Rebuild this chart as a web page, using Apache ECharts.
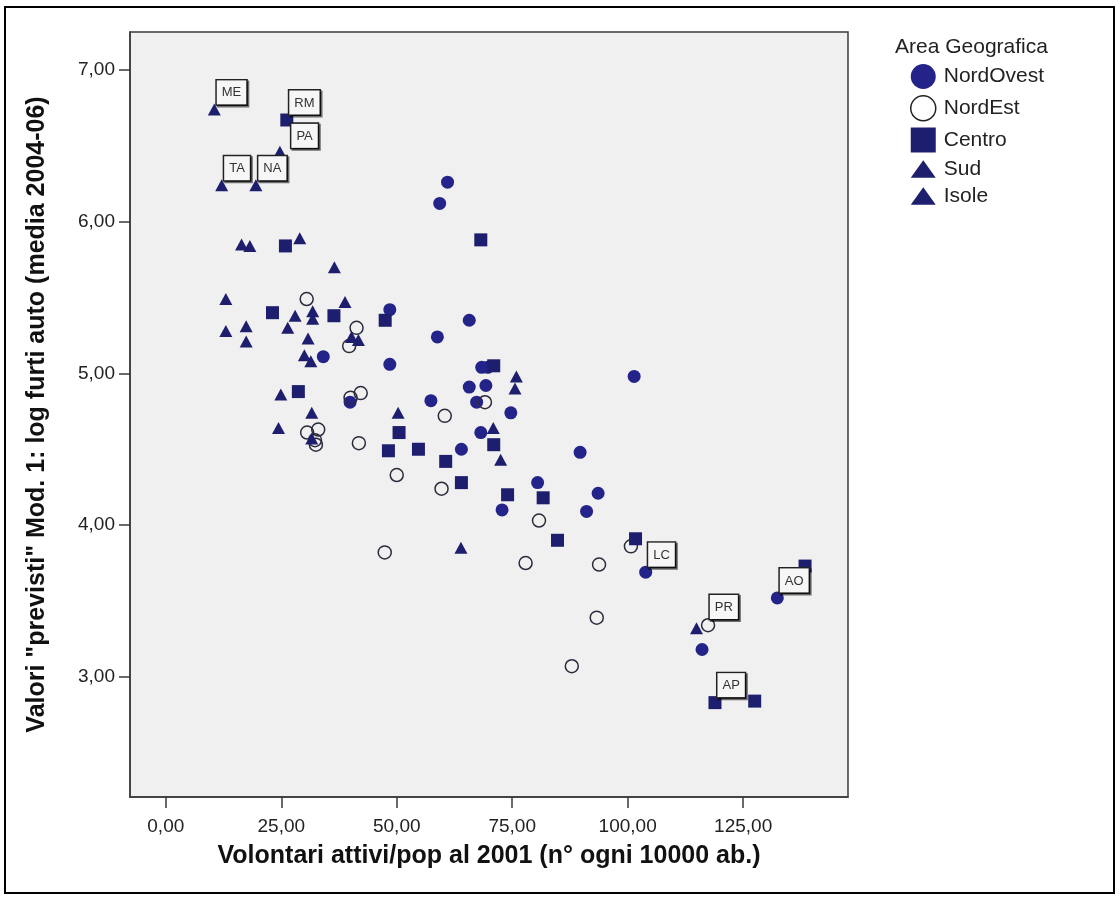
<!DOCTYPE html>
<html>
<head>
<meta charset="utf-8">
<title>Volontari e furti auto</title>
<script src="https://cdn.jsdelivr.net/npm/echarts@6/dist/echarts.min.js"></script>
<style>
  body { margin: 0; background: #fff; }
  #main { width: 1120px; height: 900px; }
</style>
</head>
<body>
<div id="main"></div>
<script>
  // valori: [volontari ogni 10000 ab., log furti auto previsto, sigla]
  const nordOvest = [
    [59.3, 6.12], [61.0, 6.26], [48.5, 5.42], [58.8, 5.24], [65.7, 5.35], [34.1, 5.11],
    [48.5, 5.06], [68.4, 5.04], [69.7, 5.04], [101.4, 4.98], [65.7, 4.91], [69.3, 4.92],
    [57.4, 4.82], [67.3, 4.81], [39.9, 4.81], [74.7, 4.74], [68.2, 4.61], [64.0, 4.50],
    [89.7, 4.48], [80.5, 4.28], [93.6, 4.21], [72.8, 4.10], [91.1, 4.09], [103.9, 3.69, 'LC'],
    [132.4, 3.52, 'AO'], [116.1, 3.18]
  ]
  const nordEst = [
    [30.5, 5.49], [41.3, 5.30], [39.7, 5.18], [42.2, 4.87], [40.0, 4.84], [60.4, 4.72],
    [69.1, 4.81], [30.6, 4.61], [33.0, 4.63], [32.3, 4.56], [32.5, 4.53], [41.8, 4.54],
    [50.0, 4.33], [59.7, 4.24], [80.8, 4.03], [47.4, 3.82], [77.9, 3.75], [93.8, 3.74],
    [100.7, 3.86], [93.3, 3.39], [87.9, 3.07], [117.4, 3.34, 'PR']
  ]
  const centro = [
    [26.2, 6.67, 'RM'], [25.9, 5.84], [68.2, 5.88], [23.1, 5.40], [36.4, 5.38], [47.5, 5.35],
    [71.0, 5.05], [28.7, 4.88], [50.5, 4.61], [71.0, 4.53], [48.2, 4.49], [54.7, 4.50],
    [60.6, 4.42], [64.0, 4.28], [74.0, 4.20], [81.7, 4.18], [84.8, 3.90], [101.7, 3.91],
    [118.9, 2.83, 'AP'], [127.5, 2.84], [138.4, 3.73]
  ]
  const sud = [
    [12.1, 6.24, 'TA'], [19.5, 6.24, 'NA'], [18.2, 5.84], [29.0, 5.89], [36.5, 5.70],
    [38.8, 5.47], [28.0, 5.38], [31.8, 5.41], [31.8, 5.36], [17.4, 5.31], [40.2, 5.24],
    [41.7, 5.22], [30.8, 5.23], [31.4, 5.08], [24.9, 4.86], [31.6, 4.57], [75.9, 4.98],
    [75.6, 4.90], [70.9, 4.64], [72.5, 4.43]
  ]
  const isole = [
    [10.5, 6.74, 'ME'], [24.7, 6.46, 'PA'], [13.0, 5.49], [16.4, 5.85], [13.0, 5.28],
    [17.4, 5.21], [26.4, 5.30], [30.0, 5.12], [24.4, 4.64], [31.6, 4.74], [50.3, 4.74],
    [63.9, 3.85], [114.9, 3.32]
  ]
  const xTicks = [0, 25, 50, 75, 100, 125]
  const yTicks = [3, 4, 5, 6, 7]

  const blu = '#23238a'
  const bluScuro = '#1e1e6e'
  const fmt = v => v.toFixed(2).replace('.', ',')

  // etichetta a riquadro in alto a destra del punto
  const sigla = {
    show: true,
    formatter: p => p.value[2],
    position: [9, -23],
    fontSize: 13,
    color: '#333',
    backgroundColor: '#f6f6f6',
    borderColor: '#222',
    borderWidth: 1.5,
    padding: [6, 5, 5, 5],
    shadowColor: 'rgba(0,0,0,0.55)',
    shadowOffsetX: 1.5,
    shadowOffsetY: 1.5
  }
  function punti (arr) {
    return arr.map(p => {
      if (!p[2]) return p
      let lab = Object.assign({}, sigla)
      if (p[2] === 'PA') lab.position = [18, -22]
      return {value: p, label: lab}
    })
  }

  function serie (name, arr, symbol, size, style) {
    return {
      name: name,
      type: 'scatter',
      symbol: symbol,
      symbolSize: size,
      itemStyle: Object.assign({opacity: 1}, style),
      label: {show: false},
      emphasis: {disabled: true},
      data: punti(arr)
    }
  }

  const triangolo = 'path://M0,16L11.5,0L23,16Z'
  const assi = {color: '#3a3a3a', width: 1.5}

  let chart = echarts.init(document.getElementById('main'))
  chart.setOption({
    animation: false,
    textStyle: {fontFamily: 'Liberation Sans'},
    graphic: [
      {
        type: 'rect',
        shape: {x: 5, y: 7, width: 1109, height: 886},
        style: {fill: 'none', stroke: '#000', lineWidth: 2}
      },
      {
        type: 'text',
        left: 895,
        top: 37,
        style: {text: 'Area Geografica', fontSize: 21, fill: '#222', fontFamily: 'Liberation Sans'}
      }
    ],
    legend: {
      orient: 'vertical',
      left: 910,
      top: 64,
      padding: 0,
      itemWidth: 25,
      itemHeight: 25,
      itemGap: 6,
      selectedMode: false,
      textStyle: {fontSize: 21, color: '#222', padding: [0, 0, 0, 3]},
      data: [
        {name: 'NordOvest', icon: 'circle'},
        {name: 'NordEst', icon: 'circle', itemStyle: {color: '#fff', borderColor: '#222', borderWidth: 1.5}},
        {name: 'Centro', icon: 'rect'},
        {name: 'Sud', icon: triangolo},
        {name: 'Isole', icon: triangolo}
      ]
    },
    grid: {
      left: 130,
      top: 32,
      width: 718,
      height: 765,
      show: true,
      backgroundColor: '#f0f0f0',
      borderColor: '#3a3a3a',
      borderWidth: 1.5
    },
    xAxis: {
      type: 'value',
      min: -7.75,
      max: 147.7,
      name: 'Volontari attivi/pop al 2001 (n° ogni 10000 ab.)',
      nameLocation: 'middle',
      nameGap: 47,
      nameTextStyle: {fontSize: 25, fontWeight: 'bold', color: '#111'},
      axisLine: {show: true, onZero: false, lineStyle: assi},
      axisTick: {show: true, customValues: xTicks, length: 11, lineStyle: assi},
      axisLabel: {customValues: xTicks, formatter: fmt, fontSize: 19, color: '#222', margin: 20},
      splitLine: {show: false}
    },
    yAxis: {
      type: 'value',
      min: 2.208,
      max: 7.25,
      name: 'Valori "previsti" Mod. 1: log furti auto (media 2004-06)',
      nameLocation: 'middle',
      nameGap: 80,
      nameTextStyle: {fontSize: 25, fontWeight: 'bold', color: '#111'},
      axisLine: {show: true, onZero: false, lineStyle: assi},
      axisTick: {show: true, customValues: yTicks, length: 11, lineStyle: assi},
      axisLabel: {customValues: yTicks, formatter: fmt, fontSize: 19, color: '#222', margin: 15},
      splitLine: {show: false}
    },
    series: [
      serie('NordOvest', nordOvest, 'circle', 13, {color: blu}),
      serie('NordEst', nordEst, 'circle', 13, {color: 'rgba(0,0,0,0)', borderColor: '#2b2b3c', borderWidth: 1.5}),
      serie('Centro', centro, 'rect', 13, {color: bluScuro}),
      serie('Sud', sud, 'triangle', [13, 12], {color: bluScuro}),
      serie('Isole', isole, 'triangle', [13, 12], {color: bluScuro})
    ]
  })
</script>
</body>
</html>
